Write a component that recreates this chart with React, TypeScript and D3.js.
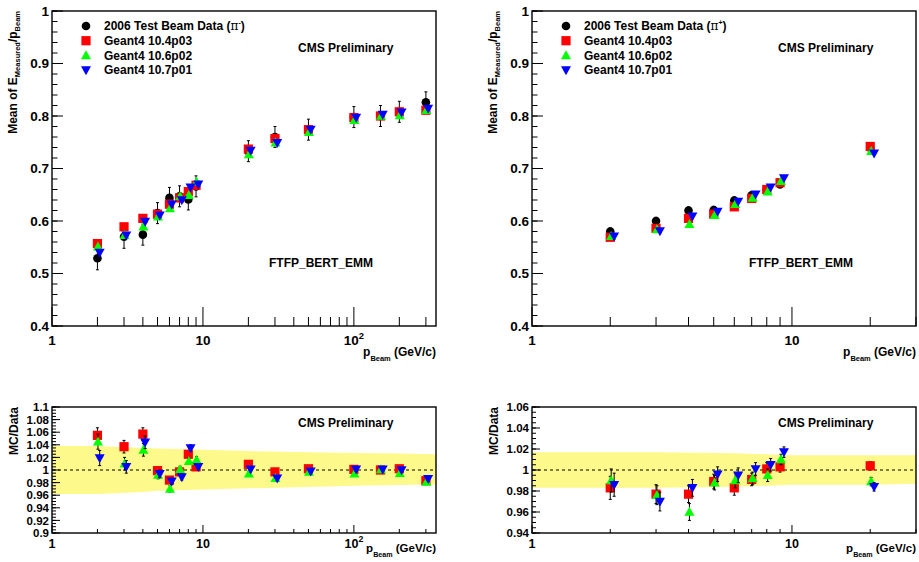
import React from 'react';
import * as d3 from 'd3';

// ---------- data: pi- (left) ----------
const pNeg = [2, 3, 4, 5, 6, 7, 8, 9, 20, 30, 50, 100, 150, 200, 300];
const dataNeg = [0.529, 0.570, 0.574, 0.615, 0.644, 0.647, 0.641, 0.666, 0.733, 0.760, 0.774, 0.798, 0.800, 0.808, 0.826];
const dataNegErr = [0.022, 0.022, 0.02, 0.02, 0.02, 0.02, 0.02, 0.02, 0.02, 0.02, 0.02, 0.02, 0.02, 0.02, 0.02];
const g104Neg = [0.557, 0.589, 0.605, 0.613, 0.632, 0.644, 0.656, 0.668, 0.737, 0.757, 0.774, 0.797, 0.800, 0.808, 0.811];
const g106Neg = [0.551, 0.573, 0.589, 0.608, 0.624, 0.647, 0.649, 0.675, 0.727, 0.749, 0.769, 0.792, 0.800, 0.801, 0.811];
const g107Neg = [0.540, 0.573, 0.599, 0.611, 0.632, 0.640, 0.664, 0.670, 0.734, 0.749, 0.774, 0.797, 0.803, 0.807, 0.814];
const r104Neg = [1.055, 1.037, 1.057, 0.999, 0.984, 0.997, 1.025, 1.005, 1.009, 0.997, 1.002, 1.001, 1.000, 1.002, 0.983];
const r106Neg = [1.045, 1.010, 1.032, 0.992, 0.970, 1.001, 1.014, 1.016, 0.994, 0.987, 0.997, 0.994, 1.001, 0.995, 0.981];
const r107Neg = [1.019, 1.005, 1.044, 0.994, 0.982, 0.989, 1.035, 1.005, 1.001, 0.987, 0.998, 1.001, 1.001, 1.000, 0.986];
const rErrNeg = [0.012, 0.01, 0.01, 0.006, 0.005, 0.005, 0.005, 0.005, 0.004, 0.004, 0.004, 0.003, 0.003, 0.003, 0.003];
const bandXNeg = [1, 2, 4, 5, 10, 20, 50, 100, 200, 350];
const bandHiNeg = [1.038, 1.038, 1.035, 1.034, 1.032, 1.030, 1.028, 1.027, 1.026, 1.025];
const bandLoNeg = [0.962, 0.962, 0.965, 0.967, 0.969, 0.971, 0.973, 0.975, 0.976, 0.977];

// ---------- data: pi+ (right) ----------
const pPos = [2, 3, 4, 5, 6, 7, 8, 9, 20];
const dataPos = [0.580, 0.600, 0.620, 0.621, 0.639, 0.649, 0.660, 0.670, 0.739];
const dataPosErr = [0.007, 0.007, 0.007, 0.007, 0.007, 0.007, 0.007, 0.007, 0.007];
const g104Pos = [0.569, 0.586, 0.605, 0.613, 0.627, 0.643, 0.660, 0.673, 0.742];
const g106Pos = [0.571, 0.584, 0.594, 0.611, 0.632, 0.644, 0.656, 0.676, 0.733];
const g107Pos = [0.571, 0.581, 0.609, 0.618, 0.637, 0.651, 0.664, 0.682, 0.729];
const r104Pos = [0.983, 0.977, 0.977, 0.989, 0.983, 0.991, 1.001, 1.003, 1.004];
const r106Pos = [0.990, 0.976, 0.960, 0.988, 0.990, 0.992, 0.995, 1.010, 0.989];
const r107Pos = [0.986, 0.970, 0.983, 0.996, 0.995, 1.001, 1.005, 1.017, 0.984];
const rErrPos = [0.011, 0.009, 0.008, 0.007, 0.007, 0.006, 0.006, 0.005, 0.004];
const bandXPos = [1, 3, 6, 8, 10, 20, 30];
const bandHiPos = [1.017, 1.017, 1.016, 1.015, 1.014, 1.014, 1.014];
const bandLoPos = [0.983, 0.983, 0.984, 0.985, 0.986, 0.986, 0.987];

const legendLabels = ['Geant4 10.4p03', 'Geant4 10.6p02', 'Geant4 10.7p01'];
const yTicksTop = [0.4, 0.5, 0.6, 0.7, 0.8, 0.9, 1];
const yTicksRatioNeg = [0.9, 0.92, 0.94, 0.96, 0.98, 1, 1.02, 1.04, 1.06, 1.08, 1.1];
const yTicksRatioPos = [0.94, 0.96, 0.98, 1, 1.02, 1.04, 1.06];

const FONT = "'Liberation Sans', Arial, Helvetica, sans-serif";
const RED = '#ff0000', GREEN = '#00ff00', BLUE = '#0000ff';
const GREEN_SHIFT = 1.008, BLUE_SHIFT = 1.035;

type MarkerKind = 'circle' | 'square' | 'up' | 'down';

function Marker({ kind, x, y }: { kind: MarkerKind; x: number; y: number }) {
  if (kind === 'circle') return <circle cx={x} cy={y} r={4.3} fill="#000" />;
  if (kind === 'square') return <rect x={x - 4.6} y={y - 4.6} width={9.2} height={9.2} fill={RED} />;
  if (kind === 'up') return <path d={`M${x},${y - 5.2}L${x + 5},${y + 3.8}L${x - 5},${y + 3.8}Z`} fill={GREEN} />;
  return <path d={`M${x},${y + 5.2}L${x + 5},${y - 3.8}L${x - 5},${y - 3.8}Z`} fill={BLUE} />;
}

function ErrBar({ x, y1, y2 }: { x: number; y1: number; y2: number }) {
  return (
    <g stroke="#000" strokeWidth={1}>
      <line x1={x} x2={x} y1={y1} y2={y2} />
      <line x1={x - 1.5} x2={x + 1.5} y1={y1} y2={y1} />
      <line x1={x - 1.5} x2={x + 1.5} y1={y2} y2={y2} />
    </g>
  );
}

type Series = { kind: MarkerKind; vals: number[]; err?: number[]; shift: number };

type PanelProps = {
  left: number; right: number; top: number; bottom: number;
  xMax: number; yDomain: [number, number];
  xs: number[]; series: Series[];
  yTicks: number[]; yMinorStep: number; yFmt: (v: number) => string;
  majorLen: number; minorLen: number; xMajorLen: number; xMinorLen: number;
  tickFont: number; xTickFont: number; xLabelY: number;
  band?: { xs: number[]; hi: number[]; lo: number[] };
  dashed?: boolean;
};

function Panel(p: PanelProps) {
  const x = d3.scaleLog().domain([1, p.xMax]).range([p.left, p.right]);
  const y = d3.scaleLinear().domain(p.yDomain).range([p.bottom, p.top]);
  const decades = [1, 10, 100, 1000].filter((d) => d <= p.xMax);
  const xMinor: number[] = [];
  decades.forEach((d) => { for (let k = 2; k <= 9; k++) if (d * k <= p.xMax) xMinor.push(d * k); });
  const yMinor = d3.range(p.yDomain[0], p.yDomain[1] + 1e-9, p.yMinorStep);
  let bandPath = '';
  if (p.band) {
    const b = p.band;
    const area = d3.area<number>()
      .x((_, i) => x(b.xs[i]))
      .y0((_, i) => y(b.lo[i]))
      .y1((v) => y(v));
    bandPath = area(b.hi) || '';
  }
  return (
    <g>
      {p.band && <path d={bandPath} fill="#fdf98a" />}
      {p.dashed && <line x1={p.left} x2={p.right} y1={y(1)} y2={y(1)} stroke="#000" strokeWidth={1.2} strokeDasharray="3,3" />}
      {yMinor.map((v, i) => (
        <line key={'ym' + i} x1={p.left} x2={p.left + p.minorLen} y1={y(v)} y2={y(v)} stroke="#000" strokeWidth={1} />
      ))}
      {p.yTicks.map((v, i) => (
        <g key={'yt' + i}>
          <line x1={p.left} x2={p.left + p.majorLen} y1={y(v)} y2={y(v)} stroke="#000" strokeWidth={1} />
          <text x={p.left - 3} y={y(v)} dy="0.36em" textAnchor="end" fontSize={p.tickFont} fontWeight="bold" fontFamily={FONT}>{p.yFmt(v)}</text>
        </g>
      ))}
      {xMinor.map((v, i) => (
        <line key={'xm' + i} x1={x(v)} x2={x(v)} y1={p.bottom} y2={p.bottom - p.xMinorLen} stroke="#000" strokeWidth={1} />
      ))}
      {decades.map((d, i) => (
        <g key={'xd' + i}>
          <line x1={x(d)} x2={x(d)} y1={p.bottom} y2={p.bottom - p.xMajorLen} stroke="#000" strokeWidth={1} />
          <text x={x(d)} y={p.xLabelY} textAnchor="middle" fontSize={p.xTickFont} fontWeight="bold" fontFamily={FONT}>
            {d < 100 ? String(d) : (<>10<tspan fontSize={p.xTickFont * 0.7} dy={-p.xTickFont * 0.45}>{Math.round(Math.log10(d))}</tspan></>)}
          </text>
        </g>
      ))}
      {p.series.map((s, si) => (
        <g key={'s' + si}>
          {s.vals.map((v, i) => {
            const cx = x(p.xs[i] * s.shift);
            return (
              <g key={i}>
                {s.err && <ErrBar x={cx} y1={y(v + s.err[i])} y2={y(v - s.err[i])} />}
                <Marker kind={s.kind} x={cx} y={y(v)} />
              </g>
            );
          })}
        </g>
      ))}
      <rect x={p.left} y={p.top} width={p.right - p.left} height={p.bottom - p.top} fill="none" stroke="#000" strokeWidth={1.4} />
    </g>
  );
}

function XTitle({ xRight, y, size }: { xRight: number; y: number; size: number }) {
  return (
    <text x={xRight} y={y} textAnchor="end" fontSize={size} fontWeight="bold" fontFamily={FONT}>
      p<tspan fontSize={size * 0.62} dy={size * 0.45}>Beam</tspan><tspan dy={-size * 0.45}>{' (GeV/c)'}</tspan>
    </text>
  );
}

function TopYTitle({ x, yTop }: { x: number; yTop: number }) {
  return (
    <text transform={`translate(${x},${yTop}) rotate(-90)`} textAnchor="end" fontSize={12} fontWeight="bold" fontFamily={FONT}>
      Mean of E<tspan fontSize={7.5} dy={3}>Measured</tspan><tspan dy={-3}>/p</tspan><tspan fontSize={7.5} dy={3}>Beam</tspan>
    </text>
  );
}

function Legend({ x, y, charge }: { x: number; y: number; charge: string }) {
  const kinds: MarkerKind[] = ['circle', 'square', 'up', 'down'];
  const rowH = 14.7;
  return (
    <g>
      {kinds.map((k, i) => (
        <g key={i}>
          <Marker kind={k} x={x} y={y + i * rowH} />
          <text x={x + 18} y={y + i * rowH} dy="0.36em" fontSize={12} fontWeight="bold" fontFamily={FONT}>
            {i === 0 ? (<>2006 Test Beam Data (<tspan fontWeight="normal" fontFamily="'DejaVu Serif', serif">π</tspan><tspan fontSize={7} dy={-5}>{charge}</tspan><tspan dy={5}>)</tspan></>) : legendLabels[i - 1]}
          </text>
        </g>
      ))}
    </g>
  );
}

function Label({ x, y, text, size = 12 }: { x: number; y: number; text: string; size?: number }) {
  return <text x={x} y={y} fontSize={size} fontWeight="bold" fontFamily={FONT}>{text}</text>;
}

export default function App() {
  const fmtTop = (v: number) => (v === 1 ? '1' : d3.format('.1f')(v));
  const fmtRatio = (v: number) => (Math.abs(v - 1) < 1e-9 ? '1' : String(+v.toFixed(2)));
  const topCommon = {
    top: 11, bottom: 326, yDomain: [0.4, 1] as [number, number], yTicks: yTicksTop, yMinorStep: 0.02,
    yFmt: fmtTop, majorLen: 11, minorLen: 5.5, xMajorLen: 19, xMinorLen: 9, tickFont: 13.5, xTickFont: 13.5, xLabelY: 345,
  };
  const botCommon = {
    top: 407, bottom: 533, yMinorStep: 0.005, yFmt: fmtRatio, majorLen: 8, minorLen: 4,
    xMajorLen: 8, xMinorLen: 4, tickFont: 11.5, xTickFont: 12.5, xLabelY: 548, dashed: true,
  };
  return (
    <svg width={919} height={562} style={{ position: 'absolute', left: 0, top: 0, background: '#fff' }}>
      <rect width={919} height={562} fill="#fff" />
      <Panel {...topCommon} left={52} right={436} xMax={350} xs={pNeg}
        series={[
          { kind: 'circle', vals: dataNeg, err: dataNegErr, shift: 1 },
          { kind: 'square', vals: g104Neg, shift: 1 },
          { kind: 'up', vals: g106Neg, shift: GREEN_SHIFT },
          { kind: 'down', vals: g107Neg, shift: BLUE_SHIFT },
        ]} />
      <Panel {...topCommon} left={532} right={916} xMax={30} xs={pPos}
        series={[
          { kind: 'circle', vals: dataPos, err: dataPosErr, shift: 1 },
          { kind: 'square', vals: g104Pos, shift: 1 },
          { kind: 'up', vals: g106Pos, shift: GREEN_SHIFT },
          { kind: 'down', vals: g107Pos, shift: BLUE_SHIFT },
        ]} />
      <Panel {...botCommon} left={52} right={436} xMax={350} xs={pNeg} yDomain={[0.9, 1.1]} yTicks={yTicksRatioNeg}
        band={{ xs: bandXNeg, hi: bandHiNeg, lo: bandLoNeg }}
        series={[
          { kind: 'square', vals: r104Neg, err: rErrNeg, shift: 1 },
          { kind: 'up', vals: r106Neg, err: rErrNeg, shift: GREEN_SHIFT },
          { kind: 'down', vals: r107Neg, err: rErrNeg, shift: BLUE_SHIFT },
        ]} />
      <Panel {...botCommon} left={532} right={916} xMax={30} xs={pPos} yDomain={[0.94, 1.06]} yTicks={yTicksRatioPos}
        band={{ xs: bandXPos, hi: bandHiPos, lo: bandLoPos }}
        series={[
          { kind: 'square', vals: r104Pos, err: rErrPos, shift: 1 },
          { kind: 'up', vals: r106Pos, err: rErrPos, shift: GREEN_SHIFT },
          { kind: 'down', vals: r107Pos, err: rErrPos, shift: BLUE_SHIFT },
        ]} />

      <Legend x={86} y={26} charge="-" />
      <Legend x={566} y={26} charge="+" />
      <Label x={298} y={52} text="CMS Preliminary" />
      <Label x={778} y={52} text="CMS Preliminary" />
      <Label x={269} y={267} text="FTFP_BERT_EMM" />
      <Label x={749} y={267} text="FTFP_BERT_EMM" />
      <Label x={298} y={427} text="CMS Preliminary" />
      <Label x={778} y={427} text="CMS Preliminary" />

      <TopYTitle x={16.5} yTop={11} />
      <TopYTitle x={496.5} yTop={11} />
      <text transform="translate(18,407) rotate(-90)" textAnchor="end" fontSize={12} fontWeight="bold" fontFamily={FONT}>MC/Data</text>
      <text transform="translate(498,407) rotate(-90)" textAnchor="end" fontSize={12} fontWeight="bold" fontFamily={FONT}>MC/Data</text>

      <XTitle xRight={436} y={356} size={12} />
      <XTitle xRight={916} y={356} size={12} />
      <XTitle xRight={436} y={552} size={11.5} />
      <XTitle xRight={916} y={552} size={11.5} />
    </svg>
  );
}
